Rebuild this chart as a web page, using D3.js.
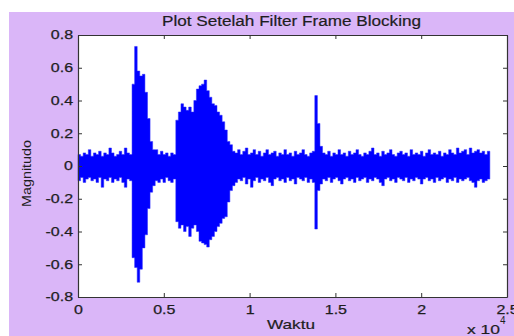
<!DOCTYPE html>
<html>
<head>
<meta charset="utf-8">
<script src="https://cdn.jsdelivr.net/npm/d3@7"></script>
<style>
  body { margin: 0; background: #fff; }
  text { font-family: "Liberation Sans", Arial, sans-serif; fill: #1e1e1e; }
</style>
</head>
<body>
<div id="wrap"></div>
<script>
// samples per envelope bin
const step = 150;
const sampleCount = 24000;

// upper envelope of the signal (max of each 150-sample bin)
const upper = [
  0.07,0.06,0.08,0.07,0.10,0.06,0.08,0.07,0.09,0.06,0.08,0.07,0.11,0.08,0.06,0.07,0.09,0.07,0.11,0.08,0.07,
  0.50,0.73,0.58,0.55,0.56,0.45,0.29,0.15,0.10,
  0.10,0.07,0.09,0.07,0.08,0.06,0.08,0.07,
  0.28,0.33,0.38,0.36,0.34,0.36,0.33,0.40,0.47,0.49,0.50,0.525,0.46,0.42,0.38,0.37,0.33,0.31,0.27,0.22,0.15,0.13,0.09,
  0.08,0.10,0.07,0.09,0.11,0.07,0.08,0.10,0.07,0.09,0.06,0.08,0.10,0.07,0.08,0.09,0.06,0.08,0.07,0.10,
  0.07,0.08,0.06,0.09,0.07,0.08,0.10,0.07,0.06,0.08,
  0.09,0.43,0.26,
  0.12,0.08,0.07,0.09,0.06,0.08,0.07,0.10,0.07,0.08,
  0.06,0.09,0.07,0.08,0.10,0.07,0.06,0.08,0.07,0.09,
  0.11,0.07,0.08,0.06,0.09,0.07,0.08,0.10,0.07,0.06,
  0.08,0.09,0.07,0.08,0.06,0.10,0.07,0.08,0.07,0.09,
  0.06,0.08,0.10,0.07,0.08,0.07,0.09,0.06,0.08,0.07,
  0.10,0.08,0.07,0.11,0.08,0.09,0.10,0.07,0.11,0.08,
  0.09,0.10,0.08,0.09,0.07,0.09
];

// lower envelope of the signal (min of each bin)
const lower = [
  -0.09,-0.07,-0.10,-0.08,-0.07,-0.09,-0.08,-0.10,-0.07,-0.13,-0.08,-0.09,-0.07,-0.10,-0.08,-0.09,-0.07,-0.10,-0.13,-0.08,-0.09,
  -0.56,-0.62,-0.71,-0.63,-0.50,-0.42,-0.26,-0.16,-0.12,
  -0.09,-0.10,-0.08,-0.10,-0.07,-0.09,-0.10,-0.08,
  -0.34,-0.38,-0.36,-0.40,-0.37,-0.43,-0.38,-0.36,-0.40,-0.46,-0.47,-0.48,-0.495,-0.45,-0.43,-0.40,-0.37,-0.35,-0.32,-0.31,-0.22,-0.15,-0.12,
  -0.10,-0.08,-0.09,-0.07,-0.11,-0.08,-0.13,-0.09,-0.07,-0.10,-0.08,-0.09,-0.07,-0.10,-0.12,-0.08,-0.07,-0.09,-0.08,-0.10,
  -0.07,-0.09,-0.08,-0.11,-0.07,-0.08,-0.09,-0.07,-0.10,-0.08,
  -0.10,-0.385,-0.15,
  -0.11,-0.08,-0.09,-0.07,-0.10,-0.08,-0.07,-0.09,-0.11,-0.08,
  -0.07,-0.09,-0.08,-0.10,-0.07,-0.09,-0.08,-0.07,-0.10,-0.08,
  -0.09,-0.07,-0.08,-0.10,-0.12,-0.08,-0.07,-0.09,-0.08,-0.10,
  -0.07,-0.08,-0.09,-0.07,-0.10,-0.08,-0.09,-0.07,-0.08,-0.11,
  -0.08,-0.07,-0.09,-0.08,-0.10,-0.07,-0.09,-0.08,-0.07,-0.10,
  -0.08,-0.09,-0.07,-0.10,-0.08,-0.09,-0.08,-0.07,-0.09,-0.10,
  -0.13,-0.09,-0.08,-0.10,-0.09,-0.08
];

const xTicks = [0, 5000, 10000, 15000, 20000, 25000];
const xTickLabels = ["0", "0.5", "1", "1.5", "2", "2.5"];
const yTicks = [-0.8, -0.6, -0.4, -0.2, 0, 0.2, 0.4, 0.6, 0.8];
const yTickLabels = ["-0.8", "-0.6", "-0.4", "-0.2", "0", "0.2", "0.4", "0.6", "0.8"];

const W = 514, H = 336;
const margin = {top: 35, right: 7, bottom: 39, left: 78};
const width = W - margin.left - margin.right,
      height = H - margin.top - margin.bottom;

const svg = d3.select("#wrap").append("svg")
    .attr("width", W)
    .attr("height", H);

// figure background
svg.append("rect")
    .attr("x", 9).attr("y", 12)
    .attr("width", W - 9).attr("height", H - 12)
    .attr("fill", "#dab6f8");

const g = svg.append("g")
    .attr("transform", "translate(" + margin.left + "," + margin.top + ")");

const x = d3.scaleLinear().domain([0, 25000]).range([0, width]);
const y = d3.scaleLinear().domain([-0.8, 0.8]).range([height, 0]);

g.append("rect")
    .attr("width", width).attr("height", height)
    .attr("fill", "#fff");

// envelope, last bin closed at sampleCount
const idx = d3.range(upper.length + 1);
const area = d3.area()
    .curve(d3.curveStepAfter)
    .x(i => x(Math.min(i * step, sampleCount)))
    .y0(i => y(lower[Math.min(i, lower.length - 1)]))
    .y1(i => y(upper[Math.min(i, upper.length - 1)]));

g.append("path")
    .datum(idx)
    .attr("d", area)
    .attr("fill", "#0000ff")
    .attr("stroke", "#2a2aff")
    .attr("stroke-width", 0.5);

// stretch text horizontally like the reference rendering
function stretch(sel, k) {
  sel.each(function() {
    const t = d3.select(this);
    t.attr("textLength", this.getComputedTextLength() * k).attr("lengthAdjust", "spacingAndGlyphs");
  });
}

// axes with inward ticks on all sides
const fmtX = (d, i) => xTickLabels[i];
const fmtY = (d, i) => yTickLabels[i];

const xb = g.append("g")
    .attr("transform", "translate(0," + height + ")")
    .call(d3.axisBottom(x).tickValues(xTicks).tickFormat(fmtX).tickSizeInner(-4).tickSizeOuter(0).tickPadding(8));
const xt = g.append("g")
    .call(d3.axisTop(x).tickValues(xTicks).tickFormat("").tickSizeInner(-4).tickSizeOuter(0));
const yl = g.append("g")
    .call(d3.axisLeft(y).tickValues(yTicks).tickFormat(fmtY).tickSizeInner(-4).tickSizeOuter(0).tickPadding(5));
const yr = g.append("g")
    .attr("transform", "translate(" + width + ",0)")
    .call(d3.axisRight(y).tickValues(yTicks).tickFormat("").tickSizeInner(-4).tickSizeOuter(0));

[xb, xt, yl, yr].forEach(a => {
  a.selectAll("path.domain").attr("stroke", "#333").attr("stroke-width", 1.2);
  a.selectAll(".tick line").attr("stroke", "#333");
  a.selectAll(".tick text")
      .style("font-family", "'Liberation Sans', Arial, sans-serif")
      .style("font-size", "12px")
      .attr("fill", "#1e1e1e")
      .attr("stroke", "#1e1e1e")
      .attr("stroke-width", 0.25);
  stretch(a.selectAll(".tick text"), 1.33);
});

// title and labels
svg.append("text")
    .attr("x", 291.5).attr("y", 26)
    .attr("text-anchor", "middle")
    .style("font-size", "14px")
    .attr("stroke", "#1e1e1e").attr("stroke-width", 0.2)
    .attr("textLength", 259).attr("lengthAdjust", "spacingAndGlyphs")
    .text("Plot Setelah Filter Frame Blocking");

svg.append("text")
    .attr("x", 291).attr("y", 329)
    .attr("text-anchor", "middle")
    .style("font-size", "13px")
    .attr("stroke", "#1e1e1e").attr("stroke-width", 0.2)
    .attr("textLength", 48).attr("lengthAdjust", "spacingAndGlyphs")
    .text("Waktu");

svg.append("text")
    .attr("transform", "translate(31,173.5) rotate(-90)")
    .attr("text-anchor", "middle")
    .style("font-size", "12px")
    .attr("textLength", 67).attr("lengthAdjust", "spacingAndGlyphs")
    .text("Magnitudo");

svg.append("text")
    .attr("x", 467).attr("y", 334)
    .style("font-size", "13px")
    .attr("stroke", "#1e1e1e").attr("stroke-width", 0.2)
    .attr("textLength", 33).attr("lengthAdjust", "spacingAndGlyphs")
    .text("x 10");
svg.append("text")
    .attr("x", 500).attr("y", 324)
    .style("font-size", "10px")
    .text("4");
</script>
</body>
</html>
